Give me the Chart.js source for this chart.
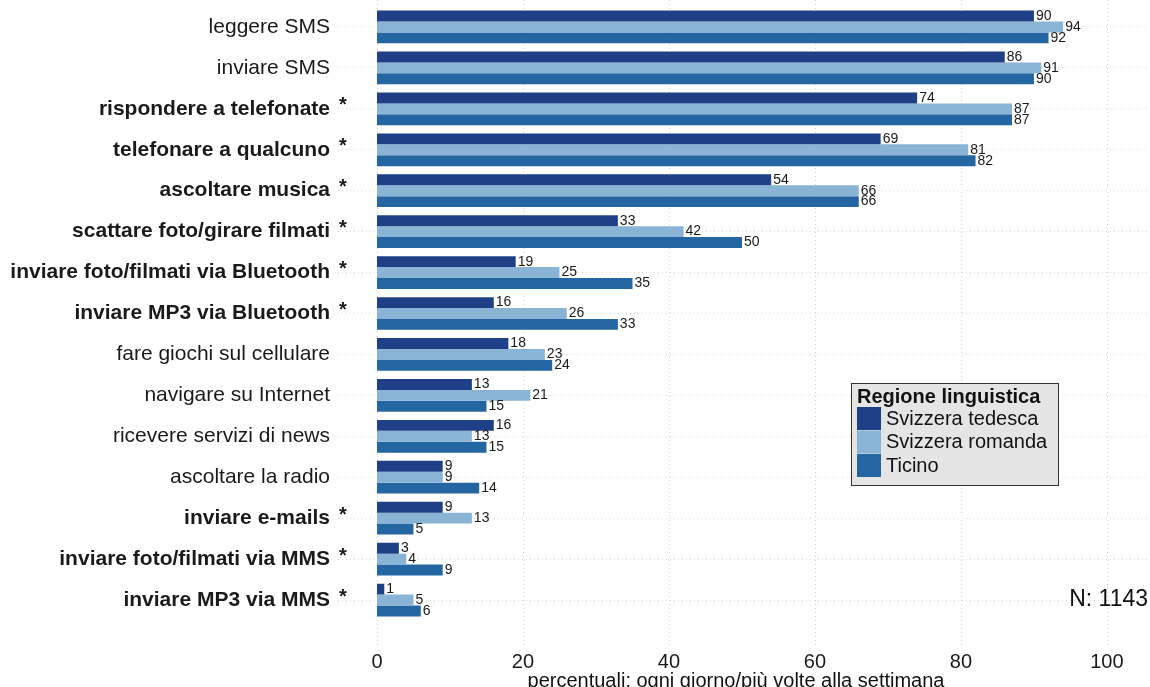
<!DOCTYPE html>
<html>
<head>
<meta charset="utf-8">
<script src="https://cdn.jsdelivr.net/npm/chart.js@4"></script>
<style>
  html, body { margin: 0; padding: 0; background: #fff; }
  #wrap { width: 1150px; height: 687px; position: relative; }
</style>
</head>
<body>
<div id="wrap"><canvas id="chart"></canvas></div>
<script>
const categories = [
    'leggere SMS', 'inviare SMS', 'rispondere a telefonate', 'telefonare a qualcuno',
    'ascoltare musica', 'scattare foto/girare filmati', 'inviare foto/filmati via Bluetooth',
    'inviare MP3 via Bluetooth', 'fare giochi sul cellulare', 'navigare su Internet',
    'ricevere servizi di news', 'ascoltare la radio', 'inviare e-mails',
    'inviare foto/filmati via MMS', 'inviare MP3 via MMS'
];
// categorie con differenza significativa (asterisco, grassetto)
const significant = [false, false, true, true, true, true, true, true, false, false, false, false, true, true, true];

const svizzeraTedesca = [90, 86, 74, 69, 54, 33, 19, 16, 18, 13, 16, 9, 9, 3, 1];
const svizzeraRomanda = [94, 91, 87, 81, 66, 42, 25, 26, 23, 21, 13, 9, 13, 4, 5];
const ticino = [92, 90, 87, 82, 66, 50, 35, 33, 24, 15, 15, 14, 5, 9, 6];

const seriesNames = ['Svizzera tedesca', 'Svizzera romanda', 'Ticino'];
const seriesColors = ['#1f4086', '#8ab4d6', '#2466a1'];
const xTicks = [0, 20, 40, 60, 80, 100];

const FONT = '"Liberation Sans", Arial, sans-serif';

// griglia verticale, etichette dei valori, asterischi, legenda e note
const extras = {
    id: 'extras',
    beforeDatasetsDraw(chart) {
        const c = chart.ctx;
        const x = chart.scales.x;
        const area = chart.chartArea;
        c.save();
        c.strokeStyle = '#d2d2d2';
        c.lineWidth = 1;
        c.setLineDash([1, 3]);
        xTicks.forEach(v => {
            const px = Math.round(x.getPixelForValue(v)) + 0.5;
            c.beginPath();
            c.moveTo(px, 0);
            c.lineTo(px, area.bottom + 25);
            c.stroke();
        });
        c.restore();
    },
    afterDatasetsDraw(chart) {
        const c = chart.ctx;
        const area = chart.chartArea;
        const y = chart.scales.y;
        c.save();
        c.fillStyle = '#1a1a1a';
        c.font = '14px ' + FONT;
        c.textAlign = 'left';
        c.textBaseline = 'middle';
        chart.data.datasets.forEach((ds, i) => {
            chart.getDatasetMeta(i).data.forEach((bar, j) => {
                c.fillText(String(ds.data[j]), bar.x + 2, bar.y);
            });
        });

        // asterischi
        c.font = 'bold 20px ' + FONT;
        categories.forEach((cat, j) => {
            if (!significant[j]) return;
            c.fillText('*', area.left + 1, y.getPixelForValue(j) - 3);
        });

        // legenda
        const lx = 851, ly = 383, lw = 207, lh = 102;
        c.fillStyle = '#e5e5e5';
        c.fillRect(lx, ly, lw, lh);
        c.strokeStyle = '#333';
        c.lineWidth = 1;
        c.strokeRect(lx + 0.5, ly + 0.5, lw, lh);
        c.fillStyle = '#111';
        c.font = 'bold 20px ' + FONT;
        c.fillText('Regione linguistica', lx + 6, ly + 14);
        c.font = '20px ' + FONT;
        seriesNames.forEach((name, i) => {
            const sy = ly + 24 + i * 23.5;
            c.fillStyle = seriesColors[i];
            c.fillRect(lx + 6, sy, 24, 23);
            c.fillStyle = '#111';
            c.fillText(name, lx + 35, sy + 12);
        });

        // N
        c.font = '23px ' + FONT;
        c.textAlign = 'right';
        c.fillStyle = '#111';
        c.fillText('N: 1143', 1148, y.getPixelForValue(categories.length - 1));

        // titolo asse x
        c.font = '20px ' + FONT;
        c.textAlign = 'center';
        c.textBaseline = 'alphabetic';
        c.fillText('percentuali: ogni giorno/più volte alla settimana', 736, 687);
        c.restore();
    }
};

const ctx = document.getElementById('chart').getContext('2d');
new Chart(ctx, {
    type: 'bar',
    data: {
        labels: categories,
        datasets: [svizzeraTedesca, svizzeraRomanda, ticino].map((d, i) => ({
            label: seriesNames[i],
            data: d,
            backgroundColor: seriesColors[i],
            borderWidth: 0,
            categoryPercentage: 0.8,
            barPercentage: 1
        }))
    },
    options: {
        indexAxis: 'y',
        responsive: true,
        maintainAspectRatio: false,
        animation: false,
        layout: { padding: { top: 6.5, right: 0, bottom: 0, left: 0 } },
        plugins: {
            legend: { display: false },
            tooltip: { enabled: false }
        },
        scales: {
            x: {
                min: -5.34,
                max: 105.9,
                afterBuildTicks: scale => { scale.ticks = xTicks.map(v => ({ value: v })); },
                afterFit: scale => {
                    scale.height = 66.5;
                    scale.paddingLeft = 0;
                    scale.paddingRight = 0;
                },
                grid: { display: false, drawTicks: false },
                border: { display: false },
                ticks: {
                    padding: 29.5,
                    color: '#1a1a1a',
                    font: { family: FONT, size: 20 }
                }
            },
            y: {
                afterFit: scale => {
                    scale.width = 338;
                    scale.paddingTop = 0;
                    scale.paddingBottom = 0;
                },
                grid: { offset: false, color: '#d2d2d2', drawTicks: false },
                border: { display: false, dash: [1, 3] },
                ticks: {
                    padding: 8,
                    color: '#1a1a1a',
                    font: c => ({ family: FONT, size: 21, weight: significant[c.index] ? 'bold' : 'normal' })
                }
            }
        }
    },
    plugins: [extras]
});
</script>
</body>
</html>
